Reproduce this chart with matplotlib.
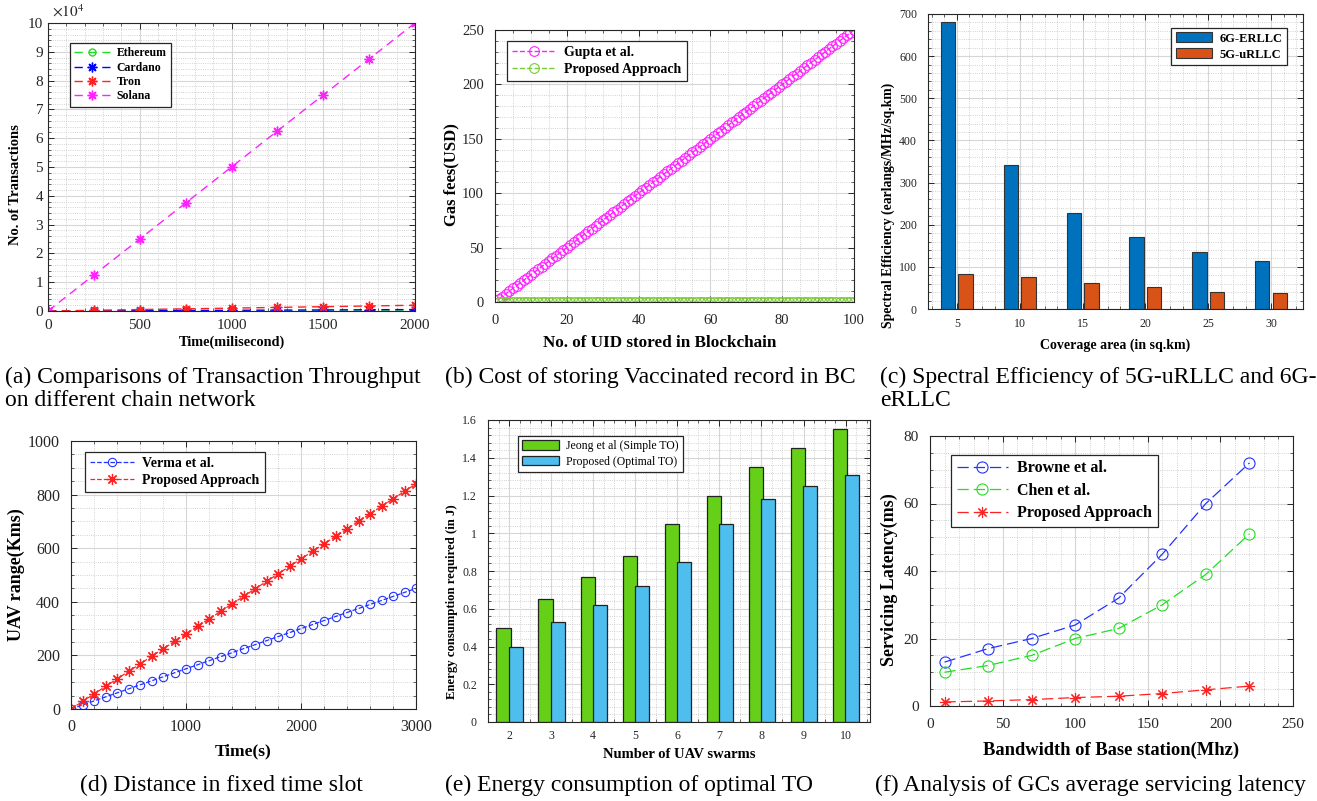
"""Six-panel comparison figure (blockchain throughput, gas fees, spectral
efficiency, UAV range, energy, servicing latency) in a MATLAB-like style."""
import matplotlib
matplotlib.use("Agg")
import matplotlib.pyplot as plt
from matplotlib.ticker import AutoMinorLocator, FixedLocator

plt.rcParams["font.family"] = ["Liberation Serif", "DejaVu Serif"]
plt.rcParams["mathtext.fontset"] = "stix"

# --------------------------------------------------------------------------- #
# data
# --------------------------------------------------------------------------- #
# (a) transactions vs time
a_time = [0, 250, 500, 750, 1000, 1250, 1500, 1750, 2000]
ethereum = [0, 4, 8, 11, 15, 19, 23, 26, 30]
cardano = [0, 62, 125, 188, 250, 312, 375, 438, 500]
tron = [0, 250, 500, 750, 1000, 1250, 1500, 1750, 2000]
solana = [0, 12500, 25000, 37500, 50000, 62500, 75000, 87500, 100000]

# (b) gas fees vs number of stored UIDs
uid_count = list(range(1, 101))
gupta_fee = [
    2.5, 5.0, 7.5, 10.0, 12.5, 15.0, 17.5, 20.0, 22.5, 25.0,
    27.5, 30.0, 32.5, 35.0, 37.5, 40.0, 42.5, 45.0, 47.5, 50.0,
    52.5, 55.0, 57.5, 60.0, 62.5, 65.0, 67.5, 70.0, 72.5, 75.0,
    77.5, 80.0, 82.5, 85.0, 87.5, 90.0, 92.5, 95.0, 97.5, 100.0,
    102.5, 105.0, 107.5, 110.0, 112.5, 115.0, 117.5, 120.0, 122.5, 125.0,
    127.5, 130.0, 132.5, 135.0, 137.5, 140.0, 142.5, 145.0, 147.5, 150.0,
    152.5, 155.0, 157.5, 160.0, 162.5, 165.0, 167.5, 170.0, 172.5, 175.0,
    177.5, 180.0, 182.5, 185.0, 187.5, 190.0, 192.5, 195.0, 197.5, 200.0,
    202.5, 205.0, 207.5, 210.0, 212.5, 215.0, 217.5, 220.0, 222.5, 225.0,
    227.5, 230.0, 232.5, 235.0, 237.5, 240.0, 242.5, 245.0, 247.5, 250.0,
]
proposed_fee = [0.3] * 100

# (c) spectral efficiency vs coverage area
coverage = [5, 10, 15, 20, 25, 30]
eff_6g = [681, 341, 227, 170, 136, 113]
eff_5g = [82, 76, 61, 52, 41, 37]

# (d) UAV range vs time
d_time = [0, 100, 200, 300, 400, 500, 600, 700, 800, 900, 1000, 1100, 1200,
          1300, 1400, 1500, 1600, 1700, 1800, 1900, 2000, 2100, 2200, 2300,
          2400, 2500, 2600, 2700, 2800, 2900, 3000]
verma_range = [0, 15, 30, 45, 60, 75, 90, 105, 120, 135, 150, 165, 180, 195,
               210, 225, 240, 255, 270, 285, 300, 315, 330, 345, 360, 375,
               390, 405, 420, 435, 450]
proposed_range = [0, 28, 56, 84, 112, 140, 168, 196, 224, 252, 280, 308, 336,
                  364, 392, 420, 448, 476, 504, 532, 560, 588, 616, 644, 672,
                  700, 728, 756, 784, 812, 840]

# (e) energy vs number of swarms
swarms = [2, 3, 4, 5, 6, 7, 8, 9, 10]
energy_jeong = [0.50, 0.65, 0.77, 0.88, 1.05, 1.20, 1.35, 1.45, 1.55]
energy_proposed = [0.40, 0.53, 0.62, 0.72, 0.85, 1.05, 1.18, 1.25, 1.31]

# (f) servicing latency vs bandwidth
bandwidth = [10, 40, 70, 100, 130, 160, 190, 220]
lat_browne = [13, 17, 20, 24, 32, 45, 60, 72]
lat_chen = [10, 12, 15, 20, 23, 30, 39, 51]
lat_proposed = [1.2, 1.5, 1.9, 2.5, 2.9, 3.7, 4.8, 5.9]

captions = [
    (5, 377, "(a) Comparisons of Transaction Throughput"),
    (5, 401, "on different chain network"),
    (445, 377, "(b) Cost of storing Vaccinated record in BC"),
    (880, 377, "(c) Spectral Efficiency of 5G-uRLLC and 6G-"),
    (880, 401, "eRLLC"),
    (80, 785, "(d) Distance in fixed time slot"),
    (445, 785, "(e) Energy consumption of optimal TO"),
    (875, 785, "(f) Analysis of GCs average servicing latency"),
]

W, H = 1317, 801
ASTER = (8, 2, 0)   # MATLAB-like '*' marker
fig = plt.figure(figsize=(W / 100, H / 100), dpi=100)


def ax_at(left, top, right, bottom):
    """Place an axes by its pixel box."""
    return fig.add_axes([left / W, 1 - bottom / H, (right - left) / W,
                         (bottom - top) / H])


def matlab_style(ax, size, xpad=3.5, ypad=3.5):
    ax.tick_params(which="both", direction="in", top=True, right=True,
                   labelsize=size, colors="#262626")
    ax.tick_params(which="major", length=4, width=0.7)
    ax.tick_params(which="minor", length=2, width=0.5)
    ax.tick_params(axis="x", which="both", pad=xpad)
    ax.tick_params(axis="y", which="both", pad=ypad)
    ax.grid(True, which="major", color="#d6d6d6", lw=0.8)
    ax.grid(True, which="minor", color="#c4c4c4", lw=0.6, ls=":")
    ax.set_axisbelow(True)
    for s in ax.spines.values():
        s.set_color("#262626")
        s.set_linewidth(0.8)


def legend(ax, loc, anchor, size, bold=True, **kw):
    opts = dict(borderpad=0.35, labelspacing=0.3, handletextpad=0.6)
    opts.update(kw)
    lg = ax.legend(loc=loc, bbox_to_anchor=anchor, borderaxespad=0,
                   fancybox=False, framealpha=1, edgecolor="#262626",
                   prop={"size": size, "weight": "bold" if bold else "normal"},
                   **opts)
    lg.get_frame().set_linewidth(0.9)
    return lg


# (a) ----------------------------------------------------------------------- #
ax = ax_at(48, 23, 415, 311)
ln = dict(ls="--", lw=1, dashes=(6, 4))
ax.plot(a_time, ethereum, color="#22dd22", marker="o", mfc="none", ms=5,
        label="Ethereum", **ln)
ax.plot(a_time, cardano, color="#0000ff", marker=ASTER, ms=7,
        label="Cardano", **ln)
ax.plot(a_time, tron, color="#ff2222", marker=ASTER, ms=7, label="Tron", **ln)
ax.plot(a_time, solana, color="#ff22ff", marker=ASTER, ms=7, label="Solana", **ln)
ax.set_xlim(0, 2000)
ax.set_ylim(0, 100000)
ax.set_xticks([0, 500, 1000, 1500, 2000])
ax.set_yticks([i * 10000 for i in range(11)])
ax.set_yticklabels([str(i) for i in range(11)])
ax.xaxis.set_minor_locator(AutoMinorLocator(5))
ax.yaxis.set_minor_locator(AutoMinorLocator(5))
matlab_style(ax, 11, xpad=5.5, ypad=3.5)
ax.text(0.01, 1.012, r"$\times10^{4}$", transform=ax.transAxes, fontsize=11,
        color="#262626", va="bottom")
ax.set_xlabel("Time(milisecond)", fontsize=10.3, fontweight="bold", labelpad=3)
ax.set_ylabel("No. of Transactions", fontsize=10.5, fontweight="bold", labelpad=4)
ax.yaxis.label.set_y(0.44)
legend(ax, "upper left", (0.06, 0.93), 8.5, handlelength=3, labelspacing=0.2)

# (b) ----------------------------------------------------------------------- #
ax = ax_at(495, 30, 854, 302)
ax.plot(uid_count, gupta_fee, color="#ff22ff", ls="--", lw=1, marker="o",
        mfc="none", ms=7, mew=0.8, label="Gupta et al.")
ax.plot(uid_count, proposed_fee, color="#77cc33", ls="--", lw=1, marker="o",
        mfc="none", ms=7, mew=0.8, label="Proposed Approach")
ax.set_xlim(0, 100)
ax.set_ylim(0, 250)
ax.set_xticks(range(0, 101, 20))
ax.set_yticks(range(0, 251, 50))
ax.xaxis.set_minor_locator(AutoMinorLocator(4))
ax.yaxis.set_minor_locator(AutoMinorLocator(5))
matlab_style(ax, 10.5, xpad=8.5, ypad=8)
ax.set_xlabel("No. of UID stored in Blockchain", fontsize=12.3,
              fontweight="bold", labelpad=6)
ax.xaxis.label.set_x(0.458)
ax.set_ylabel("Gas fees(USD)", fontsize=12, fontweight="bold", labelpad=2)
ax.yaxis.label.set_y(0.47)
legend(ax, "upper left", (0.033, 0.96), 10, handlelength=3.2)

# (c) ----------------------------------------------------------------------- #
ax = ax_at(928, 14, 1303, 309)
bw = 1.15
ax.bar([c - 0.7 for c in coverage], eff_6g, width=bw, color="#0072bd",
       edgecolor="#333333", lw=0.8, label="6G-ERLLC")
ax.bar([c + 0.7 for c in coverage], eff_5g, width=bw, color="#d95319",
       edgecolor="#333333", lw=0.8, label="5G-uRLLC")
ax.set_xlim(2.7, 32.55)
ax.set_ylim(0, 700)
ax.set_xticks(coverage)
ax.set_yticks(range(0, 701, 100))
ax.xaxis.set_minor_locator(AutoMinorLocator(5))
ax.yaxis.set_minor_locator(AutoMinorLocator(5))
matlab_style(ax, 8.6, xpad=6.5, ypad=8)
ax.set_xlabel("Coverage area (in sq.km)", fontsize=10, fontweight="bold",
              labelpad=6)
ax.set_ylabel("Spectral Efficiency (earlangs/MHz/sq.km)", fontsize=9.8,
              fontweight="bold", labelpad=3)
ax.yaxis.label.set_y(0.35)
legend(ax, "upper right", (0.957, 0.953), 9, handlelength=2.9,
       handleheight=0.85)

# (d) ----------------------------------------------------------------------- #
ax = ax_at(71, 441, 416, 709)
ax.plot(d_time, verma_range, color="#2233ff", ls="--", lw=0.9, marker="o",
        mfc="none", ms=6, mew=0.8, label="Verma et al.")
ax.plot(d_time, proposed_range, color="#ff2222", ls="--", lw=0.9,
        marker=ASTER, ms=8, mew=0.9, label="Proposed Approach")
ax.set_xlim(0, 3000)
ax.set_ylim(0, 1000)
ax.set_xticks([0, 1000, 2000, 3000])
ax.set_yticks(range(0, 1001, 200))
ax.xaxis.set_minor_locator(AutoMinorLocator(5))
ax.yaxis.set_minor_locator(AutoMinorLocator(4))
matlab_style(ax, 11.5, xpad=7, ypad=8)
ax.set_xlabel("Time(s)", fontsize=12.5, fontweight="bold", labelpad=6)
ax.set_ylabel("UAV range(Kms)", fontsize=13, fontweight="bold", labelpad=2)
legend(ax, "upper left", (0.04, 0.959), 10, handlelength=3.2)

# (e) ----------------------------------------------------------------------- #
ax = ax_at(488, 420, 870, 722)
ax.bar([s - 0.13 for s in swarms], energy_jeong, width=0.34, color="#66d019",
       edgecolor="#222222", lw=0.9, label="Jeong et al (Simple TO)")
ax.bar([s + 0.16 for s in swarms], energy_proposed, width=0.34,
       color="#4dbeee", edgecolor="#222222", lw=0.9,
       label="Proposed (Optimal TO)")
ax.set_xlim(1.5, 10.58)
ax.set_ylim(0, 1.6)
ax.set_xticks(swarms)
ax.yaxis.set_major_locator(FixedLocator([0, 0.2, 0.4, 0.6, 0.8, 1.0, 1.2,
                                         1.4, 1.6]))
ax.set_yticklabels(["0", "0.2", "0.4", "0.6", "0.8", "1", "1.2", "1.4", "1.6"])
ax.xaxis.set_minor_locator(AutoMinorLocator(4))
ax.yaxis.set_minor_locator(AutoMinorLocator(5))
matlab_style(ax, 8.6, xpad=5.5, ypad=8)
ax.set_xlabel("Number of UAV swarms", fontsize=10.5, fontweight="bold",
              labelpad=4.5)
ax.set_ylabel("Energy consumption required (in J)", fontsize=9.2,
              fontweight="bold", labelpad=3)
ax.yaxis.label.set_y(0.40)
legend(ax, "upper left", (0.079, 0.947), 8.5, bold=False, handlelength=3.1,
       handleheight=0.85)

# (f) ----------------------------------------------------------------------- #
ax = ax_at(930, 436, 1293, 706)
ln = dict(ls="--", lw=0.9, dashes=(9, 4))
ax.plot(bandwidth, lat_browne, color="#2233ff", marker="o", mfc="none", ms=8,
        mew=0.8, label="Browne et al.", **ln)
ax.plot(bandwidth, lat_chen, color="#22dd22", marker="o", mfc="none", ms=8,
        mew=0.8, label="Chen et al.", **ln)
ax.plot(bandwidth, lat_proposed, color="#ff2222", marker=ASTER, ms=8,
        mew=0.8, label="Proposed Approach", **ln)
ax.set_xlim(0, 250)
ax.set_ylim(0, 80)
ax.set_xticks(range(0, 251, 50))
ax.set_yticks(range(0, 81, 20))
ax.xaxis.set_minor_locator(AutoMinorLocator(5))
ax.yaxis.set_minor_locator(AutoMinorLocator(4))
matlab_style(ax, 11, xpad=9, ypad=8)
ax.set_xlabel("Bandwidth of Base station(Mhz)", fontsize=13.3,
              fontweight="bold", labelpad=7)
ax.set_ylabel("Servicing Latency(ms)", fontsize=13, fontweight="bold",
              labelpad=4)
ax.yaxis.label.set_y(0.467)
legend(ax, "upper left", (0.058, 0.93), 11.5, handlelength=3.2,
       labelspacing=0.4)

# captions ------------------------------------------------------------------ #
for x, y, txt in captions:
    fig.text(x / W, 1 - y / H, txt, fontsize=17, va="center", ha="left")

fig.savefig("out.png", dpi=100)
